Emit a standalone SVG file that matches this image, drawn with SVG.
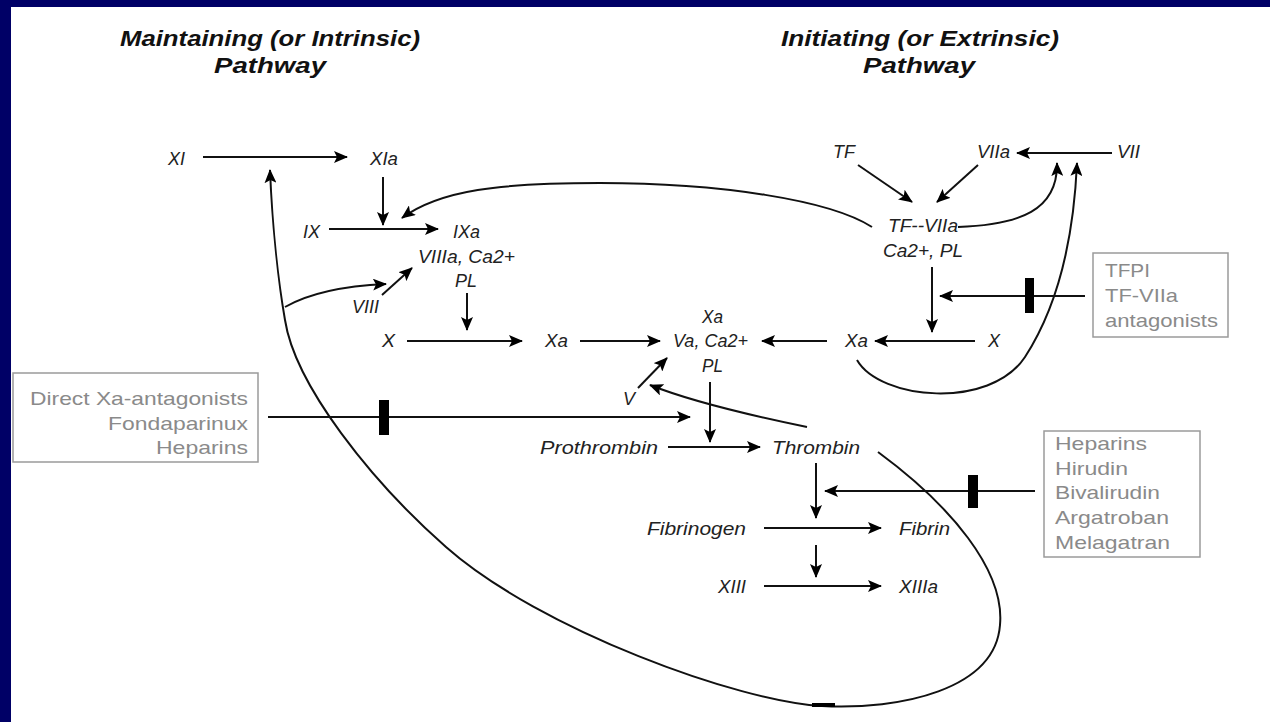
<svg xmlns="http://www.w3.org/2000/svg" width="1270" height="722" viewBox="0 0 1270 722">
<defs>
<marker id="ah" viewBox="0 0 14 12" refX="13" refY="6" markerWidth="14" markerHeight="12" markerUnits="userSpaceOnUse" orient="auto">
<path d="M0,0 L14,6 L0,12 L3,6 z" fill="#000"/>
</marker>
<style>
.t{font-family:"Liberation Sans",Arial,sans-serif;font-style:italic;font-size:18px;fill:#222}
.h{font-family:"Liberation Sans",Arial,sans-serif;font-style:italic;font-weight:bold;font-size:22px;fill:#111;text-anchor:middle}
.g{font-family:"Liberation Sans",Arial,sans-serif;font-size:19px;fill:#8a8a8a}
.box{fill:none;stroke:#9a9a9a;stroke-width:1.5}
.c{fill:none;stroke:#111;stroke-width:2}
.a{fill:none;stroke:#111;stroke-width:2;marker-end:url(#ah)}
.bar{fill:#000}
</style>
</defs>
<rect x="0" y="0" width="1270" height="722" fill="#000066"/>
<rect x="11" y="7" width="1259" height="715" fill="#fff"/>

<g id="titles">
<text class="h" x="270" y="46" textLength="300" lengthAdjust="spacingAndGlyphs">Maintaining (or Intrinsic)</text>
<text class="h" x="270" y="73" textLength="112" lengthAdjust="spacingAndGlyphs">Pathway</text>
<text class="h" x="920" y="46" textLength="278" lengthAdjust="spacingAndGlyphs">Initiating (or Extrinsic)</text>
<text class="h" x="919" y="73" textLength="112" lengthAdjust="spacingAndGlyphs">Pathway</text>
</g>

<g id="connectors">
<line class="a" x1="203" y1="157" x2="347" y2="157"/>
<line class="a" x1="383" y1="177" x2="383" y2="225"/>
<line class="a" x1="329" y1="229" x2="438" y2="229"/>
<line class="a" x1="382" y1="295" x2="412" y2="268"/>
<line class="a" x1="467" y1="293" x2="467" y2="330"/>
<line class="a" x1="407" y1="341" x2="522" y2="341"/>
<line class="a" x1="580" y1="341" x2="660" y2="341"/>
<line class="a" x1="827" y1="341" x2="762" y2="341"/>
<line class="a" x1="975" y1="341" x2="875" y2="341"/>
<line class="a" x1="932" y1="267" x2="932" y2="332"/>
<line class="a" x1="638" y1="388" x2="667" y2="358"/>
<line class="a" x1="710" y1="382" x2="710" y2="442"/>
<line class="a" x1="668" y1="447" x2="760" y2="447"/>
<line class="a" x1="858" y1="165" x2="912" y2="202"/>
<line class="a" x1="978" y1="165" x2="937" y2="202"/>
<line class="a" x1="1112" y1="153" x2="1017" y2="153"/>
<line class="a" x1="816" y1="463" x2="816" y2="518"/>
<line class="a" x1="764" y1="528" x2="881" y2="528"/>
<line class="a" x1="816" y1="545" x2="816" y2="577"/>
<line class="a" x1="764" y1="586" x2="881" y2="586"/>
<line class="a" x1="268" y1="417" x2="690" y2="417"/>
<line class="a" x1="1085" y1="296" x2="940" y2="296"/>
<line class="a" x1="1035" y1="491" x2="825" y2="491"/>
<path class="a" d="M285,307 Q320,287 386,284"/>
<path class="a" d="M872,227 C830,200 720,183 600,183 C500,183 440,190 402,218"/>
<path class="a" d="M958,227 C1020,225 1058,210 1057,163"/>
<path class="a" d="M857,360 C880,400 990,410 1025,357 C1062,300 1074,230 1077,163"/>
<path class="a" d="M807,427 Q700,405 650,385"/>
<path class="a" d="M878,452 C950,505 1005,570 1000,625 C995,690 900,710 822,706 C740,702 540,630 446,547 C371,481 295,385 285,320 C278,280 272,220 270,170"/>
<rect class="bar" x="379" y="400" width="10" height="35"/>
<rect class="bar" x="1025" y="278" width="9" height="35"/>
<rect class="bar" x="968" y="475" width="10" height="33"/>
<line x1="812" y1="705" x2="835" y2="705" stroke="#000" stroke-width="4"/>
</g>

<g id="n-XI"><text class="t" x="168" y="165" textLength="17" lengthAdjust="spacingAndGlyphs">XI</text></g>
<g id="n-XIa"><text class="t" x="370" y="165" textLength="28" lengthAdjust="spacingAndGlyphs">XIa</text></g>
<g id="n-IX"><text class="t" x="303" y="238" textLength="17" lengthAdjust="spacingAndGlyphs">IX</text></g>
<g id="n-IXa">
<text class="t" x="453" y="238" textLength="27" lengthAdjust="spacingAndGlyphs">IXa</text>
<text class="t" x="418" y="263" textLength="97" lengthAdjust="spacingAndGlyphs">VIIIa, Ca2+</text>
<text class="t" x="455" y="287" textLength="22" lengthAdjust="spacingAndGlyphs">PL</text>
</g>
<g id="n-VIII"><text class="t" x="352" y="313" textLength="27" lengthAdjust="spacingAndGlyphs">VIII</text></g>
<g id="n-X-left"><text class="t" x="382" y="347" textLength="13" lengthAdjust="spacingAndGlyphs">X</text></g>
<g id="n-Xa-left"><text class="t" x="545" y="347" textLength="23" lengthAdjust="spacingAndGlyphs">Xa</text></g>
<g id="n-prothrombinase">
<text class="t" x="702" y="323" textLength="21" lengthAdjust="spacingAndGlyphs">Xa</text>
<text class="t" x="673" y="347" textLength="75" lengthAdjust="spacingAndGlyphs">Va, Ca2+</text>
<text class="t" x="702" y="372" textLength="21" lengthAdjust="spacingAndGlyphs">PL</text>
</g>
<g id="n-V"><text class="t" x="623" y="405" textLength="12" lengthAdjust="spacingAndGlyphs">V</text></g>
<g id="n-Xa-right"><text class="t" x="845" y="347" textLength="23" lengthAdjust="spacingAndGlyphs">Xa</text></g>
<g id="n-X-right"><text class="t" x="988" y="347" textLength="12" lengthAdjust="spacingAndGlyphs">X</text></g>
<g id="n-TF"><text class="t" x="833" y="158" textLength="22" lengthAdjust="spacingAndGlyphs">TF</text></g>
<g id="n-VIIa"><text class="t" x="977" y="158" textLength="33" lengthAdjust="spacingAndGlyphs">VIIa</text></g>
<g id="n-VII"><text class="t" x="1117" y="158" textLength="23" lengthAdjust="spacingAndGlyphs">VII</text></g>
<g id="n-TF-VIIa">
<text class="t" x="888" y="232" textLength="70" lengthAdjust="spacingAndGlyphs">TF--VIIa</text>
<text class="t" x="883" y="257" textLength="80" lengthAdjust="spacingAndGlyphs">Ca2+, PL</text>
</g>
<g id="n-prothrombin"><text class="t" x="540" y="454" textLength="118" lengthAdjust="spacingAndGlyphs">Prothrombin</text></g>
<g id="n-thrombin"><text class="t" x="772" y="454" textLength="88" lengthAdjust="spacingAndGlyphs">Thrombin</text></g>
<g id="n-fibrinogen"><text class="t" x="647" y="535" textLength="99" lengthAdjust="spacingAndGlyphs">Fibrinogen</text></g>
<g id="n-fibrin"><text class="t" x="899" y="535" textLength="51" lengthAdjust="spacingAndGlyphs">Fibrin</text></g>
<g id="n-XIII"><text class="t" x="718" y="593" textLength="28" lengthAdjust="spacingAndGlyphs">XIII</text></g>
<g id="n-XIIIa"><text class="t" x="899" y="593" textLength="39" lengthAdjust="spacingAndGlyphs">XIIIa</text></g>

<g id="inh-Xa">
<rect class="box" x="13" y="373" width="245" height="89"/>
<text class="g" x="248" y="405" text-anchor="end" textLength="218" lengthAdjust="spacingAndGlyphs">Direct Xa-antagonists</text>
<text class="g" x="248" y="430" text-anchor="end" textLength="140" lengthAdjust="spacingAndGlyphs">Fondaparinux</text>
<text class="g" x="248" y="454" text-anchor="end" textLength="92" lengthAdjust="spacingAndGlyphs">Heparins</text>
</g>
<g id="inh-TFPI">
<rect class="box" x="1093" y="253" width="135" height="84"/>
<text class="g" x="1105" y="277" textLength="45" lengthAdjust="spacingAndGlyphs">TFPI</text>
<text class="g" x="1105" y="302" textLength="73" lengthAdjust="spacingAndGlyphs">TF-VIIa</text>
<text class="g" x="1105" y="327" textLength="113" lengthAdjust="spacingAndGlyphs">antagonists</text>
</g>
<g id="inh-thrombin">
<rect class="box" x="1044" y="431" width="156" height="126"/>
<text class="g" x="1055" y="450" textLength="92" lengthAdjust="spacingAndGlyphs">Heparins</text>
<text class="g" x="1055" y="475" textLength="73" lengthAdjust="spacingAndGlyphs">Hirudin</text>
<text class="g" x="1055" y="499" textLength="105" lengthAdjust="spacingAndGlyphs">Bivalirudin</text>
<text class="g" x="1055" y="524" textLength="114" lengthAdjust="spacingAndGlyphs">Argatroban</text>
<text class="g" x="1055" y="549" textLength="115" lengthAdjust="spacingAndGlyphs">Melagatran</text>
</g>
</svg>
